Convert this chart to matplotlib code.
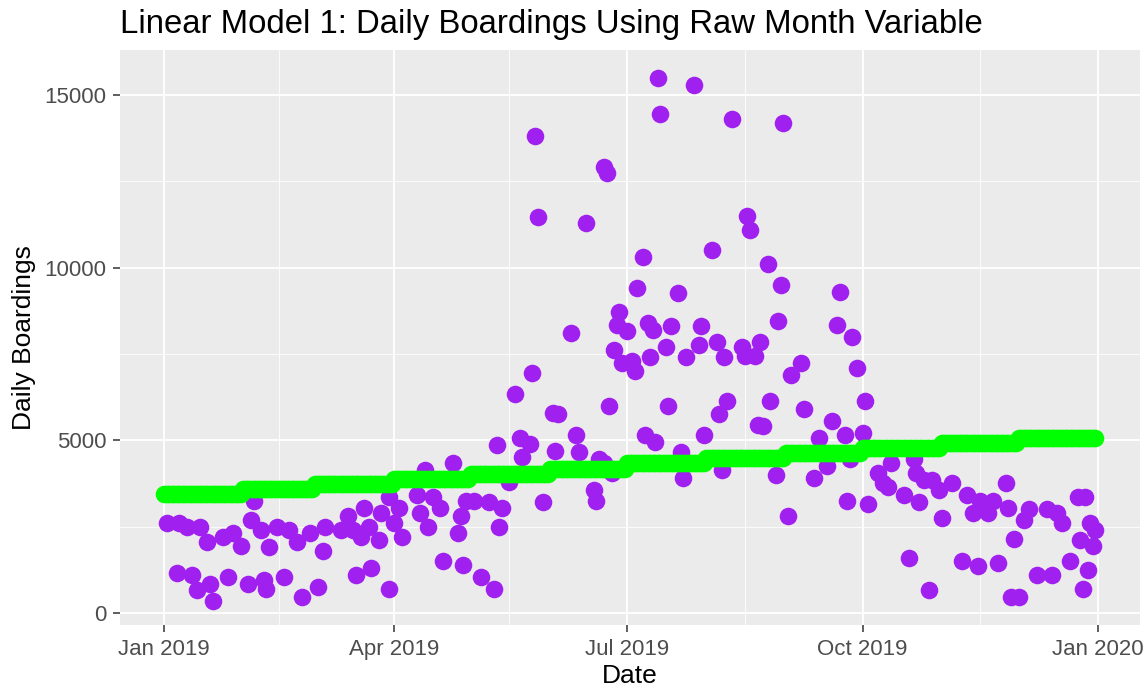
import numpy as np
import pandas as pd
import matplotlib
matplotlib.use("Agg")
import matplotlib.pyplot as plt
import matplotlib.dates as mdates

plt.rcParams['font.family'] = ['Liberation Sans', 'DejaVu Sans']

day_of_year = [
    1, 5, 6, 9, 11, 13, 14, 17, 18, 19, 23, 25, 27, 30, 33, 34, 35, 38, 39, 40,
    41, 44, 47, 49, 52, 54, 57, 60, 62, 63, 69, 72, 74, 75, 77, 78, 80, 81, 84, 85,
    88, 88, 90, 92, 93, 99, 100, 102, 103, 105, 108, 109, 113, 115, 116, 117, 118, 121, 124, 127,
    129, 130, 131, 132, 135, 137, 139, 140, 143, 144, 145, 146, 148, 152, 153, 154, 159, 161, 162, 165,
    168, 169, 170, 172, 172, 173, 174, 175, 176, 177, 178, 179, 181, 183, 184, 185, 187, 188, 189, 190,
    191, 192, 193, 194, 196, 197, 198, 201, 202, 203, 204, 207, 209, 210, 211, 214, 216, 217, 218, 219,
    220, 222, 226, 227, 228, 229, 231, 232, 233, 234, 236, 237, 239, 240, 241, 242, 244, 245, 249, 250,
    254, 256, 259, 261, 263, 264, 266, 267, 268, 269, 271, 273, 274, 275, 279, 281, 283, 284, 289, 291,
    293, 294, 295, 297, 299, 300, 303, 304, 308, 312, 314, 316, 318, 319, 322, 324, 326, 329, 330, 331,
    332, 334, 336, 338, 341, 345, 347, 349, 351, 354, 357, 358, 359, 360, 361, 362, 363, 364,
]
boardings = [
    2600, 1150, 2600, 2500, 1100, 650, 2500, 2050, 850, 350, 2200, 1050, 2300, 1950, 850, 2700, 3250, 2400, 950, 700,
    1900, 2500, 1050, 2400, 2050, 450, 2300, 750, 1800, 2500, 2400, 2800, 2400, 1100, 2200, 3050, 2500, 1300, 2100, 2900,
    3350, 700, 2600, 3050, 2200, 3400, 2900, 4150, 2500, 3350, 3050, 1500, 4350, 2300, 2800, 1400, 3250, 3250, 1050, 3200,
    700, 4850, 2500, 3050, 3800, 6350, 5050, 4500, 4900, 6950, 13800, 11450, 3200, 5800, 4700, 5750, 8100, 5150, 4650, 11300,
    3550, 3250, 4450, 4350, 12900, 12750, 6000, 4050, 7600, 8350, 8700, 7250, 8150, 7300, 7000, 9400, 10300, 5150, 8400, 7400,
    8200, 4950, 15500, 14450, 7700, 6000, 8300, 9250, 4650, 3900, 7400, 15300, 7750, 8300, 5150, 10500, 7850, 5750, 4150, 7400,
    6150, 14300, 7700, 7450, 11500, 11100, 7450, 5450, 7850, 5400, 10100, 6150, 4000, 8450, 9500, 14200, 2800, 6900, 7250, 5900,
    3900, 5050, 4250, 5550, 8350, 9300, 5150, 3250, 4450, 8000, 7100, 5200, 6150, 3150, 4050, 3750, 3650, 4350, 3400, 1600,
    4450, 4050, 3200, 3850, 650, 3850, 3550, 2750, 3750, 1500, 3400, 2900, 1350, 3250, 2900, 3250, 1450, 3750, 3050, 450,
    2150, 450, 2700, 3000, 1100, 3000, 1100, 2900, 2600, 1500, 3350, 2100, 700, 3350, 1250, 2600, 1950, 2400,
]

# fitted value of the month-only linear model, Jan..Dec
month_fit = [3430, 3580, 3730, 3880, 4030, 4180, 4330, 4480, 4630, 4780, 4930, 5070]

dates = pd.Timestamp('2019-01-01') + pd.to_timedelta(day_of_year, unit='D')
fit_dates = pd.date_range('2019-01-01', '2019-12-31', freq='D')
fitted = [month_fit[d.month - 1] for d in fit_dates]

fig = plt.figure(figsize=(11.48, 6.98), dpi=100)
ax = fig.add_axes([0.1045, 0.1046, 0.8885, 0.8238])
ax.set_facecolor('#EBEBEB')
for s in ax.spines.values():
    s.set_visible(False)

ax.scatter(dates, boardings, s=160, color='#A020F0', linewidths=0, zorder=3)
ax.scatter(fit_dates, fitted, s=160, color='#00FF00', linewidths=0, zorder=4)

ax.set_xlim(pd.Timestamp('2019-01-01') - pd.Timedelta(days=17.2),
            pd.Timestamp('2019-01-01') + pd.Timedelta(days=381.4))
ax.set_ylim(-350, 16300)

ax.set_yticks([0, 5000, 10000, 15000])
ax.set_yticks([2500, 7500, 12500], minor=True)
major_x = pd.to_datetime(['2019-01-01', '2019-04-01', '2019-07-01', '2019-10-01', '2020-01-01'])
minor_x = pd.to_datetime(['2019-02-15', '2019-05-16', '2019-08-16', '2019-11-16'])
ax.set_xticks(major_x)
ax.set_xticks(minor_x, minor=True)
ax.xaxis.set_major_formatter(mdates.DateFormatter('%b %Y'))

ax.grid(which='major', color='white', linewidth=1.3, zorder=0)
ax.grid(which='minor', color='white', linewidth=0.6, zorder=0)
ax.set_axisbelow(True)

ax.tick_params(which='major', length=5, width=1.1, color='#333333',
               labelsize=16, labelcolor='#4D4D4D', pad=5)
ax.tick_params(which='minor', length=0)

ax.set_xlabel('Date', fontsize=19, color='black', labelpad=3)
ax.set_ylabel('Daily Boardings', fontsize=19, color='black', labelpad=6)
ax.set_title('Linear Model 1: Daily Boardings Using Raw Month Variable',
             loc='left', fontsize=23.7, color='black', pad=12)

fig.savefig('out.png', dpi=100, facecolor='white')
